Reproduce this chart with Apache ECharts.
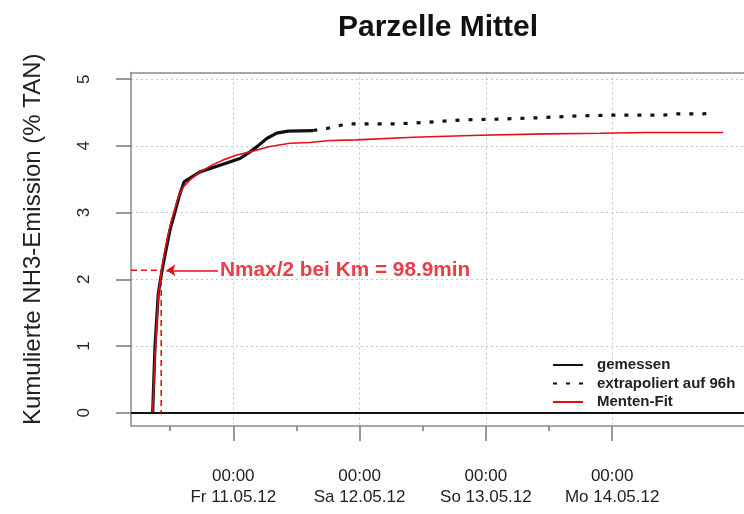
<!DOCTYPE html>
<html>
<head>
<meta charset="utf-8">
<script src="https://cdn.jsdelivr.net/npm/echarts@6/dist/echarts.min.js"></script>
<style>
html,body{margin:0;padding:0;background:#fff;}
#chart{width:744px;height:514px;}
</style>
</head>
<body>
<div id="chart"></div>
<script>
// Hours relative to Fr 11.05.12 00:00
const titleText = 'Parzelle Mittel';
const yAxisTitle = 'Kumulierte NH3-Emission (% TAN)';
const seriesNames = ['gemessen', 'extrapoliert auf 96h', 'Menten-Fit'];

const measuredHours  = [-15.32, -14.88, -14.25, -13.55, -12.79, -12.03, -11.08, -10.26, -9.37, -6.33, -2.53, 1.27, 3.17, 4.69, 6.35, 8.25, 10.40, 15.20];
const measuredValues = [0.00, 0.99, 1.79, 2.13, 2.44, 2.74, 3.01, 3.25, 3.46, 3.61, 3.71, 3.81, 3.91, 4.00, 4.11, 4.19, 4.22, 4.23];

const extrapHours  = [15.20, 17.75, 21.55, 31.05, 36.10, 43.65, 50.05, 57.65, 65.88, 72.21, 81.71, 84.26, 89.31, 91.53];
const extrapValues = [4.23, 4.26, 4.33, 4.33, 4.35, 4.39, 4.40, 4.42, 4.45, 4.46, 4.46, 4.48, 4.48, 4.50];

const fitHours  = [-15.32, -15.07, -14.78, -14.21, -13.64, -13.17, -12.60, -11.84, -11.27, -10.51, -9.56, -8.23, -6.33, -4.05, -1.90, 0.51, 3.17, 6.97, 10.77, 14.57, 18.37, 23.45, 34.20, 46.88, 59.55, 69.68, 78.55, 93.11];
const fitValues = [0.00, 0.49, 0.99, 1.79, 2.13, 2.36, 2.59, 2.86, 3.01, 3.22, 3.38, 3.49, 3.61, 3.71, 3.79, 3.86, 3.91, 3.99, 4.04, 4.05, 4.08, 4.09, 4.13, 4.16, 4.18, 4.19, 4.20, 4.20];

const xTickHours  = [0, 24, 48, 72];
const xTickLabels = ['00:00\nFr 11.05.12', '00:00\nSa 12.05.12', '00:00\nSo 13.05.12', '00:00\nMo 14.05.12'];
const xMinorTickHours = [-12, 12, 36, 60];
const yTicks = [0, 1, 2, 3, 4, 5];

const kmHour = -13.7;       // start + 98.9 min
const halfNmax = 2.135;
const arrowFromHour = -2.9;
const arrowToHour = -12.7;
const annotationText = 'Nmax/2 bei Km = 98.9min';

const xMin = -19.44, xMax = 97.05, yMin = -0.2, yMax = 5.1;
const RED = '#e50d16';
const BOX = '#8a8a8a';
const FONT = 'Liberation Sans, Arial, sans-serif';

const zip = (a, b) => a.map((v, i) => [v, b[i]]);

const chart = echarts.init(document.getElementById('chart'), null, {renderer: 'canvas'});
chart.setOption({
  animation: false,
  backgroundColor: '#fff',
  title: {
    text: titleText,
    left: 333, top: 8,
    textStyle: {fontFamily: FONT, fontSize: 30, fontWeight: 'bold', color: '#111'}
  },
  legend: {
    orient: 'vertical',
    left: 552, top: 357, padding: 0,
    itemWidth: 30, itemHeight: 14, itemGap: 2.5,
    data: seriesNames,
    itemStyle: {opacity: 0},
    textStyle: {fontFamily: FONT, fontSize: 15, fontWeight: 'bold', color: '#222', lineHeight: 16, padding: [0, 0, 0, 9]},
    selectedMode: false
  },
  grid: {left: 131, right: 0, top: 72.5, bottom: 88, show: false},
  xAxis: [{
    type: 'value', min: xMin, max: xMax, position: 'bottom',
    axisLine: {show: true, onZero: false, lineStyle: {color: BOX, width: 1.5}},
    axisTick: {show: true, customValues: xTickHours, length: 15, lineStyle: {color: '#777', width: 1.5}},
    axisLabel: {customValues: xTickHours, margin: 40, fontFamily: FONT, fontSize: 17, color: '#222', lineHeight: 21,
      formatter: v => xTickLabels[xTickHours.indexOf(v)] || ''},
    splitLine: {show: true, lineStyle: {color: '#c4c4c4', type: [2, 3], width: 1}}
  }, {
    type: 'value', min: xMin, max: xMax, position: 'top',
    axisLine: {show: true, onZero: false, lineStyle: {color: BOX, width: 1.5}},
    axisTick: {show: false},
    axisLabel: {show: false},
    splitLine: {show: false}
  }, {
    type: 'value', min: xMin, max: xMax, position: 'bottom',
    axisLine: {show: false, onZero: false},
    axisTick: {show: true, customValues: xMinorTickHours, length: 5, lineStyle: {color: '#777', width: 1.5}},
    axisLabel: {show: false},
    splitLine: {show: false}
  }],
  yAxis: {
    type: 'value', min: yMin, max: yMax,
    name: yAxisTitle, nameLocation: 'middle', nameGap: 86, nameRotate: 90,
    nameTextStyle: {fontFamily: FONT, fontSize: 24, color: '#222', padding: [0, 0, 0, 20]},
    axisLine: {show: true, onZero: false, lineStyle: {color: BOX, width: 1.5}},
    axisTick: {show: true, customValues: yTicks, length: 15, lineStyle: {color: '#777', width: 1.5}},
    axisLabel: {customValues: yTicks, rotate: 90, margin: 38, fontFamily: FONT, fontSize: 17, color: '#222'},
    splitLine: {show: true, lineStyle: {color: '#c4c4c4', type: [2, 3], width: 1}}
  },
  series: [
    {
      name: seriesNames[0], type: 'line', data: zip(measuredHours, measuredValues),
      symbol: 'none', showSymbol: false, color: '#111',
      lineStyle: {color: '#111', width: 3.2}, z: 3
    },
    {
      name: seriesNames[1], type: 'line', data: zip(extrapHours, extrapValues),
      symbol: 'none', showSymbol: false, color: '#111',
      lineStyle: {color: '#111', width: 3.2, type: [4, 9]}, z: 3
    },
    {
      name: seriesNames[2], type: 'line', data: zip(fitHours, fitValues),
      symbol: 'none', showSymbol: false, color: RED,
      lineStyle: {color: RED, width: 1.6}, z: 4
    },
    {
      name: 'zero', type: 'line', data: [], z: 5,
      markLine: {silent: true, symbol: 'none', label: {show: false},
        lineStyle: {color: '#111', width: 2, type: 'solid'},
        data: [{yAxis: 0}]}
    },
    {
      name: 'km', type: 'line', symbol: 'none', z: 5,
      data: [[xMin, halfNmax], [kmHour, halfNmax], [kmHour, 0]],
      lineStyle: {color: RED, width: 1.6, type: [6, 4]}
    },
    {
      name: 'arrow', type: 'scatter', symbolSize: 0, z: 6,
      data: [[arrowFromHour, halfNmax]],
      label: {show: true, position: 'right', distance: 2, formatter: annotationText,
        fontFamily: FONT, fontSize: 20.8, fontWeight: 'bold', color: RED},
      markLine: {silent: true, symbol: ['none', 'arrow'], symbolSize: 9, label: {show: false},
        lineStyle: {color: RED, width: 1.6, type: 'solid'},
        data: [[{coord: [arrowFromHour, halfNmax]}, {coord: [arrowToHour, halfNmax]}]]}
    }
  ]
});
</script>
</body>
</html>
